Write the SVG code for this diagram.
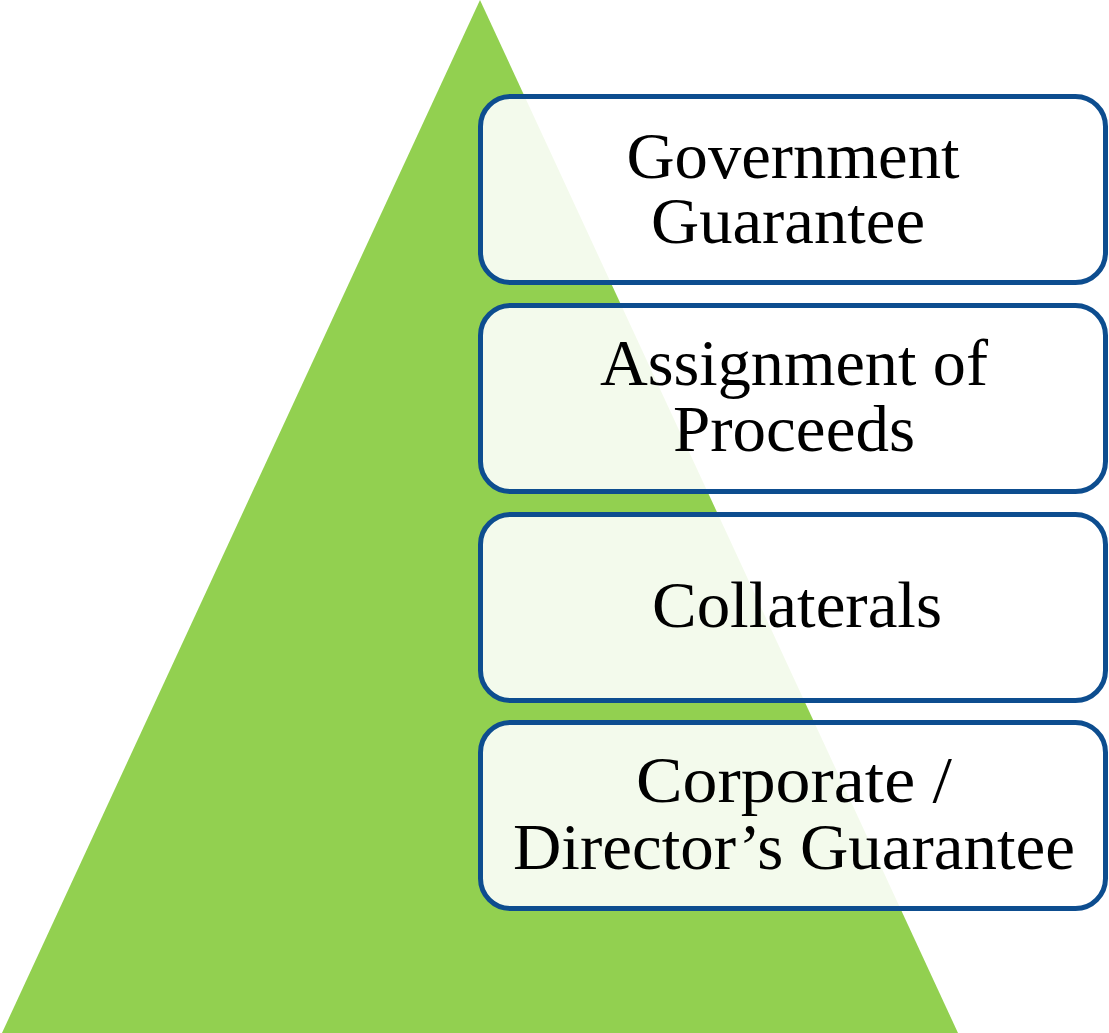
<svg xmlns="http://www.w3.org/2000/svg" width="1109" height="1033" viewBox="0 0 1109 1033">
<style>
.box{fill:#ffffff;fill-opacity:0.89;stroke:#0D4D8F;stroke-width:5}
.t{font-family:"Liberation Serif","Times New Roman",serif;font-size:66px;fill:#000000;text-anchor:middle}
</style>
<rect width="1109" height="1033" fill="#ffffff"/>
<g id="pyramid">
<polygon points="480,0 958,1033 2,1033" fill="#92D050"/>
</g>
<g id="connectors"></g>
<g id="node-government">
<rect class="box" x="480.5" y="96.5" width="625" height="186" rx="30" ry="30"/>
<text class="t" x="793" y="178" textLength="333" lengthAdjust="spacingAndGlyphs">Government</text>
<text class="t" x="788" y="243" textLength="274" lengthAdjust="spacingAndGlyphs">Guarantee</text>
</g>
<g id="node-assignment">
<rect class="box" x="480.5" y="305.5" width="625" height="186" rx="30" ry="30"/>
<text class="t" x="794" y="385" textLength="388" lengthAdjust="spacingAndGlyphs">Assignment of</text>
<text class="t" x="794" y="451" textLength="242" lengthAdjust="spacingAndGlyphs">Proceeds</text>
</g>
<g id="node-collaterals">
<rect class="box" x="480.5" y="514.5" width="625" height="186" rx="30" ry="30"/>
<text class="t" x="797" y="627" textLength="290" lengthAdjust="spacingAndGlyphs">Collaterals</text>
</g>
<g id="node-corporate">
<rect class="box" x="480.5" y="722.5" width="625" height="186" rx="30" ry="30"/>
<text class="t" x="794" y="802" textLength="316" lengthAdjust="spacingAndGlyphs">Corporate /</text>
<text class="t" x="794" y="869" textLength="562" lengthAdjust="spacingAndGlyphs">Director’s Guarantee</text>
</g>
</svg>
